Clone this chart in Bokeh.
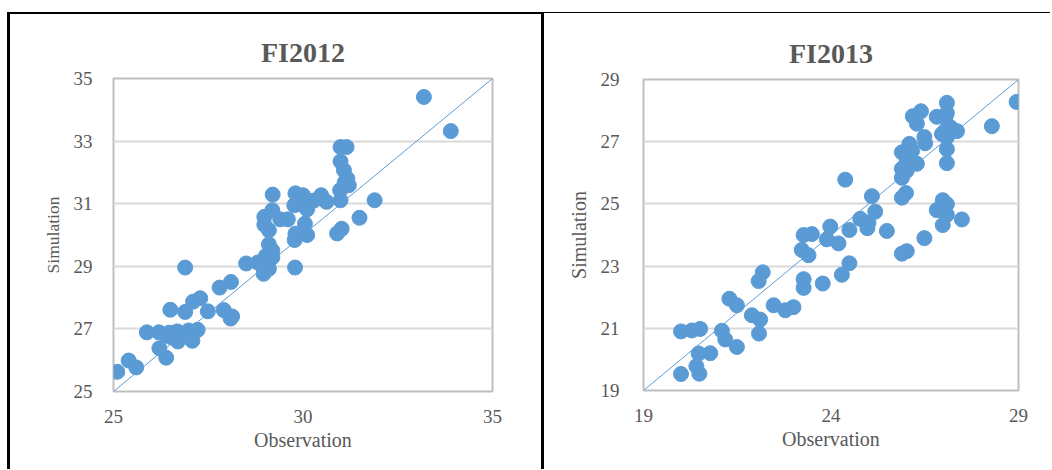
from bokeh.plotting import figure
from bokeh.layouts import row, column
from bokeh.models import Div, Spacer
from bokeh.embed import file_html
from bokeh.resources import INLINE

# ---- data: FI2012 ----
obs_2012 = [33.19, 33.90, 30.99, 31.15, 30.99, 31.08, 31.17, 31.10, 31.21, 30.98,
            30.99, 31.89, 31.49, 30.90, 31.02, 29.20, 29.80, 30.00, 29.77, 29.95,
            30.11, 30.48, 30.62, 30.29, 29.19, 28.98, 28.98, 29.10, 29.40, 29.60,
            30.05, 29.80, 30.11, 29.78, 29.10, 29.19, 29.02, 29.19, 28.96, 29.10,
            28.96, 28.80, 28.50, 26.89, 29.79, 27.80, 28.10, 27.10, 27.29, 26.50,
            26.89, 27.49, 27.91, 28.13, 28.09, 25.88, 26.20, 26.47, 26.68, 26.98,
            27.22, 26.55, 26.70, 27.08, 26.40, 26.85, 26.21, 26.39, 25.40, 25.60,
            25.10]
sim_2012 = [34.41, 33.32, 32.81, 32.81, 32.35, 32.07, 31.80, 31.68, 31.59, 31.43,
            31.11, 31.11, 30.55, 30.05, 30.20, 31.29, 31.33, 31.27, 30.95, 30.98,
            30.82, 31.27, 31.06, 31.10, 30.79, 30.58, 30.33, 30.15, 30.50, 30.50,
            30.36, 30.04, 30.00, 29.84, 29.70, 29.50, 29.33, 29.28, 29.08, 28.92,
            28.76, 29.12, 29.09, 28.96, 28.96, 28.32, 28.50, 27.87, 27.98, 27.61,
            27.54, 27.56, 27.60, 27.40, 27.33, 26.89, 26.89, 26.88, 26.92, 26.95,
            26.97, 26.72, 26.60, 26.62, 26.78, 26.82, 26.38, 26.08, 25.99, 25.77,
            25.63]

# ---- data: FI2013 ----
obs_2013 = [28.95, 28.29, 27.09, 27.09, 26.82, 27.05, 27.18, 27.36, 27.05, 26.96,
            27.09, 27.09, 27.09, 26.18, 26.40, 26.29, 26.49, 26.51, 26.09, 25.89,
            26.16, 26.29, 26.02, 25.89, 26.02, 25.89, 25.89, 26.00, 24.38, 25.09,
            24.78, 25.00, 25.18, 24.97, 25.49, 24.49, 23.98, 23.89, 24.20, 23.27,
            23.49, 23.22, 23.40, 26.98, 27.09, 26.82, 27.09, 26.98, 27.49, 26.49,
            25.89, 26.02, 24.49, 24.29, 23.27, 23.27, 23.78, 22.18, 22.07, 21.29,
            21.49, 22.47, 22.78, 23.00, 21.89, 22.11, 22.08, 20.00, 20.29, 20.51,
            21.09, 21.18, 21.49, 20.47, 20.78, 20.41, 20.49, 20.00]
sim_2013 = [28.28, 27.50, 28.25, 27.92, 27.80, 27.78, 27.47, 27.34, 27.36, 27.25,
            27.14, 26.76, 26.31, 27.82, 27.98, 27.58, 27.15, 26.95, 26.93, 26.66,
            26.70, 26.29, 26.40, 26.13, 26.07, 25.84, 25.20, 25.35, 25.78, 25.25,
            24.52, 24.40, 24.75, 24.22, 24.13, 24.16, 24.27, 23.86, 23.73, 24.00,
            24.03, 23.52, 23.35, 25.12, 24.99, 24.80, 24.65, 24.32, 24.50, 23.90,
            23.40, 23.48, 23.09, 22.72, 22.58, 22.30, 22.44, 22.80, 22.52, 21.95,
            21.74, 21.74, 21.58, 21.68, 21.42, 21.28, 20.83, 20.90, 20.93, 20.98,
            20.92, 20.64, 20.40, 20.19, 20.20, 19.78, 19.54, 19.53]

range_2012 = (25, 35)
range_2013 = (19, 29)
xticks_2012 = [25, 30, 35]
yticks_2012 = [25, 27, 29, 31, 33, 35]
xticks_2013 = [19, 24, 29]
yticks_2013 = [19, 21, 23, 25, 27, 29]

BLUE = "#5b9bd5"
TXT = "#595959"
FONT = "Liberation Serif"


def make(title, xs, ys, rng, xt, yt, width, height, mb, ylab_size, ystand):
    p = figure(width=width, height=height, x_range=rng, y_range=rng,
               output_backend="svg", toolbar_location=None,
               min_border_left=mb[0], min_border_right=mb[1],
               min_border_top=mb[2], min_border_bottom=mb[3],
               title=title, margin=0)
    p.title.align = "center"
    p.title.text_font = FONT
    p.title.text_font_size = "28px"
    p.title.text_font_style = "bold"
    p.title.text_color = TXT
    p.title.standoff = 21
    p.outline_line_color = "#bfbfbf"
    p.outline_line_width = 2
    p.xgrid.grid_line_color = None
    p.ygrid.grid_line_color = "#d9d9d9"
    p.ygrid.grid_line_width = 2
    p.xaxis.ticker = xt
    p.yaxis.ticker = yt
    for ax in (p.xaxis[0], p.yaxis[0]):
        ax.axis_line_color = None
        ax.major_tick_line_color = None
        ax.minor_tick_line_color = None
        ax.major_tick_out = 0
        ax.major_tick_in = 0
        ax.major_label_text_font = FONT
        ax.major_label_text_font_size = "19px"
        ax.major_label_text_color = TXT
        ax.axis_label_text_font = FONT
        ax.axis_label_text_font_style = "normal"
        ax.axis_label_text_color = TXT
    p.xaxis.axis_label = "Observation"
    p.yaxis.axis_label = "Simulation"
    p.xaxis.axis_label_text_font_size = "20px"
    p.yaxis.axis_label_text_font_size = ylab_size
    p.xaxis.major_label_standoff = 18
    p.yaxis.major_label_standoff = ystand
    p.xaxis.axis_label_standoff = 3
    p.yaxis.axis_label_standoff = 8
    p.line(x=list(rng), y=list(rng), line_color=BLUE, line_width=1)
    p.scatter(x=xs, y=ys, size=15, fill_color=BLUE, line_color=BLUE)
    return p


def bar(w, h):
    return Div(width=w, height=h, margin=0, styles={"background-color": "black"})


p1 = make("FI2012", obs_2012, sim_2012, range_2012, xticks_2012, yticks_2012,
          531, 455, (103, 49, 64, 78), "17.5px", 21)
p2 = make("FI2013", obs_2013, sim_2013, range_2013, xticks_2013, yticks_2013,
          506, 456, (99, 32, 66, 79), "20px", 24)

left = column(bar(531, 2), p1, spacing=0)
right = column(bar(506, 1), p2, spacing=0)
body = row(Spacer(width=7, height=10, margin=0), bar(3, 457), left,
           bar(3, 457), right, spacing=0)
layout = column(Spacer(width=10, height=12, margin=0), body, spacing=0)
open("out.html", "w").write(file_html(layout, INLINE))
